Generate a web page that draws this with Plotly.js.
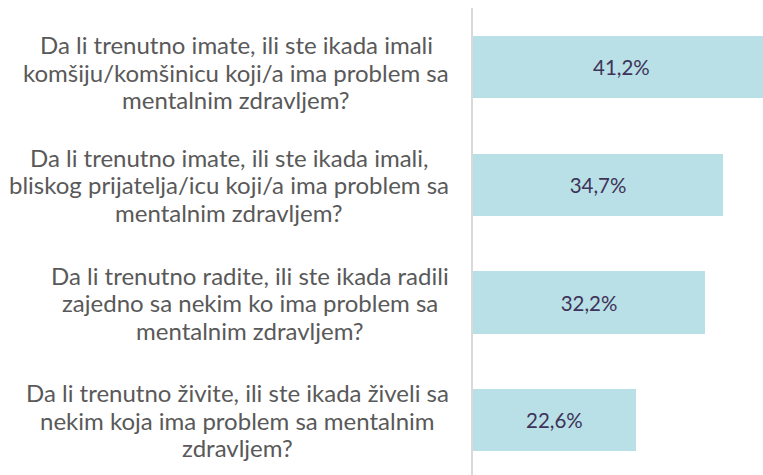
<!DOCTYPE html>
<html><head><meta charset="utf-8">
<script src="https://cdn.plot.ly/plotly-3.0.1.min.js"></script>
<style>html,body{margin:0;padding:0;background:#fff}#chart{width:763px;height:475px}</style>
</head><body><div id="chart"></div>
<script>
const categories = [
  "Da li trenutno imate, ili ste ikada imali<br>komšiju/komšinicu koji/a ima problem sa<br>mentalnim zdravljem?",
  "Da li trenutno imate, ili ste ikada imali,<br>bliskog prijatelja/icu koji/a ima problem sa<br>mentalnim zdravljem?",
  "Da li trenutno radite, ili ste ikada radili<br>zajedno sa nekim ko ima problem sa<br>mentalnim zdravljem?",
  "Da li trenutno živite, ili ste ikada živeli sa<br>nekim koja ima problem sa mentalnim<br>zdravljem?"
];
const values = [41.2, 34.7, 32.2, 22.6];
const valueLabels = ["41,2%", "34,7%", "32,2%", "22,6%"];

const labelShift = [-5.5, 0, 0, 0];
const LABEL_FONT = 24, LINE_H = 27.5, RIGHT_EDGE = 449;

const ctx = document.createElement('canvas').getContext('2d');
ctx.font = LABEL_FONT + 'px Lato';

const trace = {
  type: 'bar', orientation: 'h',
  y: categories.map((c, i) => i), x: values,
  text: valueLabels, textposition: 'inside', insidetextanchor: 'middle',
  textfont: {family: 'Lato', size: 20.5, color: '#3e3358'},
  marker: {color: '#b8e0e6'}, width: 0.527,
  hoverinfo: 'none', cliponaxis: true
};

const annotations = [];
categories.forEach((c, i) => {
  const lines = c.split('<br>');
  const maxW = Math.max(...lines.map(l => ctx.measureText(l).width));
  const cx = RIGHT_EDGE - maxW / 2;
  const n = lines.length;
  lines.forEach((l, j) => {
    annotations.push({
      xref: 'paper', yref: 'y', x: 0, y: i, xanchor: 'center', yanchor: 'middle',
      xshift: cx - 473, yshift: labelShift[i] + ((n - 1) / 2 - j) * LINE_H,
      text: l, showarrow: false,
      font: {family: 'Lato', size: LABEL_FONT, color: '#595959'}
    });
  });
});

const layout = {
  width: 763, height: 475,
  margin: {l: 473, r: 0, t: 8, b: 0, pad: 0},
  paper_bgcolor: '#fff', plot_bgcolor: '#fff',
  showlegend: false,
  bargap: 0,
  xaxis: {range: [0, 40.25], showgrid: false, zeroline: false, showticklabels: false, showline: false, ticks: ''},
  yaxis: {range: [3.464, -0.5], showgrid: false, zeroline: false, showticklabels: false, ticks: '',
          showline: true, linecolor: '#d9d9d9', linewidth: 2},
  annotations: annotations
};
Plotly.newPlot('chart', [trace], layout, {displayModeBar: false, staticPlot: true});
</script></body></html>
